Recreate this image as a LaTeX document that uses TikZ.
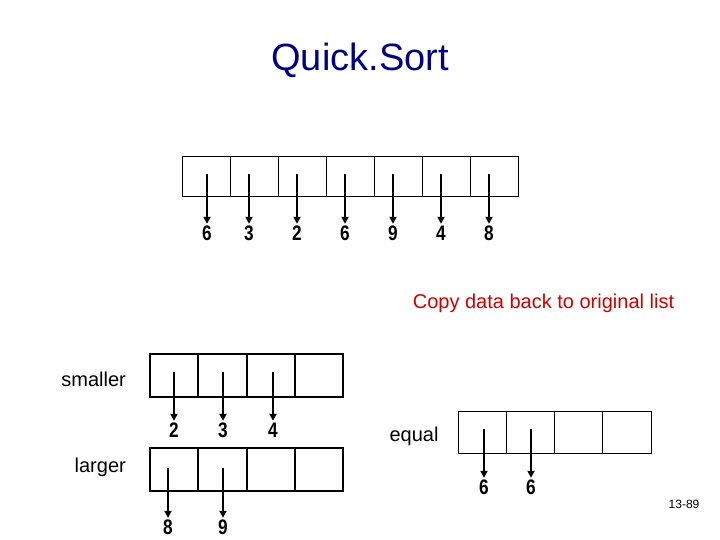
\documentclass[tikz,border=0pt]{standalone}
\usepackage{fontspec}
\setmainfont{Liberation Sans}
\newfontfamily\digfont[FakeStretch=0.82]{Liberation Sans}
\usetikzlibrary{arrows.meta}
\definecolor{navy}{RGB}{0,0,128}
\definecolor{redtxt}{RGB}{204,0,0}
\begin{document}
\begin{tikzpicture}[x=1pt,y=-1pt,
  cellthin/.style={draw=black,line width=1pt,minimum width=48pt,inner sep=0pt,outer sep=0pt},
  cellthick/.style={draw=black,line width=2pt,minimum width=48.25pt,inner sep=0pt,outer sep=0pt},
  digit/.style={font=\digfont\fontsize{21}{21}\bfseries\selectfont,inner sep=0pt,text height=15pt,text depth=0pt},
  ptr/.style={line width=2pt,-{Triangle[length=7pt,width=7pt]},shorten >=1.5pt},
  lbl/.style={font=\fontsize{20}{24}\selectfont,inner sep=0pt}]
\useasboundingbox (0,0) rectangle (720,540);
% title
\node[font=\fontsize{38}{40}\selectfont,text=navy,inner sep=0pt] (title) at (360,60) {Quick.Sort};
% top array
\foreach \i/\ax/\d in {1/207/6,2/249/3,3/297/2,4/345/6,5/393/9,6/441/4,7/489/8}{
  \node[cellthin,minimum height=40pt] (t\i) at ({182+48*(\i-1)+24},177) {};
  \coordinate (ts\i) at (\ax,174);
  \node[digit] (td\i) at (\ax,233) {\d};
  \draw[ptr] (ts\i) -- (td\i.north);
}
\node[lbl,text=redtxt] (copy) at (543.5,303) {Copy data back to original list};
% smaller
\node[lbl,anchor=east] (smaller) at (126,379) {smaller};
\foreach \i in {1,...,4}{
  \node[cellthick,minimum height=43pt] (s\i) at ({150+48.25*(\i-1)+24.125},375.5) {};
}
\foreach \i/\ax/\d in {1/174/2,2/223/3,3/273/4}{
  \coordinate (ss\i) at (\ax,372);
  \node[digit] (sd\i) at (\ax,430) {\d};
  \draw[ptr] (ss\i) -- (sd\i.north);
}
% larger
\node[lbl,anchor=east] (larger) at (126,467) {larger};
\foreach \i in {1,...,4}{
  \node[cellthick,minimum height=43pt] (g\i) at ({150+48.25*(\i-1)+24.125},469.5) {};
}
\foreach \i/\ax/\d in {1/168/8,2/223/9}{
  \coordinate (gs\i) at (\ax,468);
  \node[digit] (gd\i) at (\ax,527) {\d};
  \draw[ptr] (gs\i) -- (gd\i.north);
}
% equal
\node[lbl] (equal) at (414,436) {equal};
\foreach \i in {1,...,4}{
  \node[cellthin,minimum width=48.2pt,minimum height=41.5pt] (e\i) at ({458.3+48.2*(\i-1)+24.1},432.5) {};
}
\foreach \i/\ax/\d in {1/484/6,2/531/6}{
  \coordinate (es\i) at (\ax,429);
  \node[digit] (ed\i) at (\ax,487) {\d};
  \draw[ptr] (es\i) -- (ed\i.north);
}
\node[font=\fontsize{12}{12}\selectfont,inner sep=0pt] (pg) at (684,504) {13-89};
\end{tikzpicture}
\end{document}
